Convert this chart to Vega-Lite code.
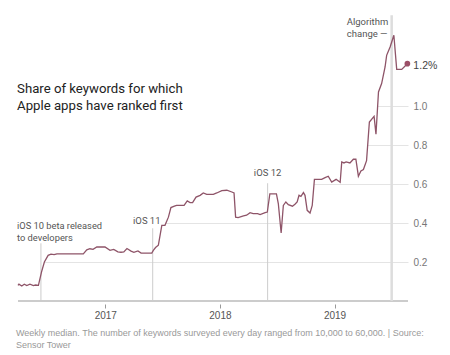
{
  "$schema": "https://vega.github.io/schema/vega-lite/v6.json",
  "width": 390,
  "height": 286,
  "autosize": {"type": "none"},
  "padding": {"left": 18, "top": 15, "right": 42, "bottom": 54},
  "background": "white",
  "config": {"view": {"stroke": null}},
  "title": {
    "text": ["Weekly median. The number of keywords surveyed every day ranged from 10,000 to 60,000. | Source:", "Sensor Tower"],
    "orient": "bottom",
    "anchor": "start",
    "frame": "group",
    "offset": 9,
    "dx": -2,
    "font": "Liberation Sans",
    "fontSize": 9,
    "fontWeight": "normal",
    "color": "#999999",
    "lineHeight": 12
  },
  "data": {"values": [{}]},
  "datasets": {
    "series": [
      {"date": "2016-03-29", "value": 0.080},
      {"date": "2016-04-01", "value": 0.086},
      {"date": "2016-04-10", "value": 0.077},
      {"date": "2016-04-18", "value": 0.086},
      {"date": "2016-04-26", "value": 0.079},
      {"date": "2016-05-06", "value": 0.086},
      {"date": "2016-05-17", "value": 0.079},
      {"date": "2016-05-24", "value": 0.082},
      {"date": "2016-06-02", "value": 0.080},
      {"date": "2016-06-12", "value": 0.149},
      {"date": "2016-06-21", "value": 0.200},
      {"date": "2016-07-03", "value": 0.234},
      {"date": "2016-07-12", "value": 0.240},
      {"date": "2016-07-22", "value": 0.238},
      {"date": "2016-07-31", "value": 0.242},
      {"date": "2016-09-10", "value": 0.242},
      {"date": "2016-10-23", "value": 0.242},
      {"date": "2016-11-03", "value": 0.262},
      {"date": "2016-11-13", "value": 0.268},
      {"date": "2016-11-23", "value": 0.265},
      {"date": "2016-12-05", "value": 0.277},
      {"date": "2016-12-31", "value": 0.277},
      {"date": "2017-01-16", "value": 0.260},
      {"date": "2017-01-28", "value": 0.265},
      {"date": "2017-02-10", "value": 0.252},
      {"date": "2017-02-20", "value": 0.250},
      {"date": "2017-03-01", "value": 0.252},
      {"date": "2017-03-11", "value": 0.269},
      {"date": "2017-03-24", "value": 0.256},
      {"date": "2017-04-02", "value": 0.250},
      {"date": "2017-04-15", "value": 0.257},
      {"date": "2017-04-25", "value": 0.246},
      {"date": "2017-05-29", "value": 0.246},
      {"date": "2017-06-03", "value": 0.260},
      {"date": "2017-06-10", "value": 0.274},
      {"date": "2017-06-19", "value": 0.286},
      {"date": "2017-06-30", "value": 0.388},
      {"date": "2017-07-10", "value": 0.388},
      {"date": "2017-07-21", "value": 0.430},
      {"date": "2017-07-29", "value": 0.479},
      {"date": "2017-08-09", "value": 0.486},
      {"date": "2017-08-16", "value": 0.490},
      {"date": "2017-09-09", "value": 0.490},
      {"date": "2017-09-19", "value": 0.513},
      {"date": "2017-09-28", "value": 0.505},
      {"date": "2017-10-06", "value": 0.505},
      {"date": "2017-10-17", "value": 0.533},
      {"date": "2017-10-30", "value": 0.542},
      {"date": "2017-11-09", "value": 0.554},
      {"date": "2017-11-20", "value": 0.547},
      {"date": "2017-12-11", "value": 0.547},
      {"date": "2017-12-22", "value": 0.554},
      {"date": "2018-01-07", "value": 0.566},
      {"date": "2018-01-23", "value": 0.568},
      {"date": "2018-02-08", "value": 0.559},
      {"date": "2018-02-15", "value": 0.554},
      {"date": "2018-02-20", "value": 0.430},
      {"date": "2018-02-28", "value": 0.428},
      {"date": "2018-03-17", "value": 0.436},
      {"date": "2018-03-27", "value": 0.440},
      {"date": "2018-04-07", "value": 0.453},
      {"date": "2018-04-17", "value": 0.448},
      {"date": "2018-05-01", "value": 0.448},
      {"date": "2018-05-09", "value": 0.443},
      {"date": "2018-05-25", "value": 0.453},
      {"date": "2018-06-01", "value": 0.456},
      {"date": "2018-06-09", "value": 0.549},
      {"date": "2018-06-30", "value": 0.549},
      {"date": "2018-07-06", "value": 0.500},
      {"date": "2018-07-15", "value": 0.349},
      {"date": "2018-07-22", "value": 0.490},
      {"date": "2018-07-30", "value": 0.508},
      {"date": "2018-08-07", "value": 0.494},
      {"date": "2018-08-20", "value": 0.486},
      {"date": "2018-08-28", "value": 0.496},
      {"date": "2018-09-04", "value": 0.508},
      {"date": "2018-09-10", "value": 0.542},
      {"date": "2018-09-16", "value": 0.537},
      {"date": "2018-09-24", "value": 0.556},
      {"date": "2018-09-29", "value": 0.542},
      {"date": "2018-10-06", "value": 0.465},
      {"date": "2018-10-15", "value": 0.451},
      {"date": "2018-10-22", "value": 0.490},
      {"date": "2018-10-29", "value": 0.624},
      {"date": "2018-11-21", "value": 0.624},
      {"date": "2018-12-02", "value": 0.633},
      {"date": "2018-12-12", "value": 0.640},
      {"date": "2018-12-23", "value": 0.610},
      {"date": "2019-01-06", "value": 0.624},
      {"date": "2019-01-19", "value": 0.609},
      {"date": "2019-01-24", "value": 0.713},
      {"date": "2019-01-31", "value": 0.708},
      {"date": "2019-02-07", "value": 0.713},
      {"date": "2019-02-19", "value": 0.708},
      {"date": "2019-03-02", "value": 0.727},
      {"date": "2019-03-10", "value": 0.727},
      {"date": "2019-03-18", "value": 0.640},
      {"date": "2019-03-26", "value": 0.667},
      {"date": "2019-04-03", "value": 0.674},
      {"date": "2019-04-13", "value": 0.720},
      {"date": "2019-04-22", "value": 0.918},
      {"date": "2019-05-07", "value": 0.947},
      {"date": "2019-05-13", "value": 0.855},
      {"date": "2019-05-21", "value": 1.072},
      {"date": "2019-05-31", "value": 1.115},
      {"date": "2019-06-11", "value": 1.200},
      {"date": "2019-06-16", "value": 1.260},
      {"date": "2019-06-27", "value": 1.303},
      {"date": "2019-07-09", "value": 1.363},
      {"date": "2019-07-18", "value": 1.188},
      {"date": "2019-08-03", "value": 1.188},
      {"date": "2019-08-21", "value": 1.217}
    ]
  },
  "layer": [
    {
      "data": {"name": "series"},
      "mark": {"type": "area", "color": "white", "interpolate": "linear"},
      "encoding": {
        "x": {
          "field": "date",
          "type": "temporal",
          "scale": {"type": "utc", "domain": [{"year": 2016, "month": 3, "date": 29, "utc": true}, {"year": 2019, "month": 8, "date": 23, "utc": true}]},
          "axis": {
            "title": null,
            "values": [{"year": 2017, "month": 1, "date": 1, "utc": true}, {"year": 2018, "month": 1, "date": 1, "utc": true}, {"year": 2019, "month": 1, "date": 1, "utc": true}],
            "format": "%Y",
            "formatType": "utc",
            "domain": false,
            "grid": false,
            "ticks": true,
            "tickSize": 4,
            "tickColor": "#999999",
            "offset": 3,
            "labelPadding": 2,
            "labelFont": "Liberation Sans",
            "labelFontSize": 10,
            "labelColor": "#555555"
          }
        },
        "y": {
          "field": "value",
          "type": "quantitative",
          "scale": {"domain": [0, 1.4667], "nice": false, "zero": true},
          "axis": {
            "orient": "right",
            "title": null,
            "values": [0.2, 0.4, 0.6, 0.8, 1.0],
            "format": ".1f",
            "grid": true,
            "gridColor": "#e4e4e4",
            "gridWidth": 1,
            "domain": false,
            "ticks": false,
            "labelPadding": 5,
            "labelAlign": "left",
            "labelFont": "Liberation Sans",
            "labelFontSize": 10,
            "labelColor": "#777777"
          }
        },
        "y2": {"datum": 1.4667}
      }
    },
    {
      "mark": {"type": "rule", "color": "#999999", "strokeWidth": 1},
      "encoding": {"y": {"datum": 0}}
    },
    {
      "mark": {"type": "rule", "color": "#cccccc", "strokeWidth": 1},
      "encoding": {
        "x": {"datum": {"year": 2016, "month": 6, "date": 10, "utc": true}, "type": "temporal"},
        "y": {"datum": 0},
        "y2": {"datum": 0.296}
      }
    },
    {
      "mark": {"type": "rule", "color": "#cccccc", "strokeWidth": 1},
      "encoding": {
        "x": {"datum": {"year": 2017, "month": 6, "date": 1, "utc": true}, "type": "temporal"},
        "y": {"datum": 0},
        "y2": {"datum": 0.373}
      }
    },
    {
      "mark": {"type": "rule", "color": "#cccccc", "strokeWidth": 1},
      "encoding": {
        "x": {"datum": {"year": 2018, "month": 6, "date": 2, "utc": true}, "type": "temporal"},
        "y": {"datum": 0},
        "y2": {"datum": 0.604}
      }
    },
    {
      "mark": {"type": "rule", "color": "#dddddd", "strokeWidth": 2.5},
      "encoding": {
        "x": {"datum": {"year": 2019, "month": 7, "date": 2, "utc": true}, "type": "temporal"},
        "y": {"datum": 0},
        "y2": {"datum": 1.465}
      }
    },
    {
      "data": {"name": "series"},
      "mark": {"type": "line", "color": "#8e5468", "strokeWidth": 1.3, "interpolate": "linear"},
      "encoding": {
        "x": {"field": "date", "type": "temporal"},
        "y": {"field": "value", "type": "quantitative"}
      }
    },
    {
      "data": {"name": "series"},
      "transform": [
        {"window": [{"op": "row_number", "as": "rk"}], "sort": [{"field": "date", "order": "descending"}]},
        {"filter": "datum.rk === 1"}
      ],
      "mark": {"type": "circle", "color": "#9c4f67", "size": 32, "opacity": 1},
      "encoding": {
        "x": {"field": "date", "type": "temporal"},
        "y": {"field": "value", "type": "quantitative"}
      }
    },
    {
      "data": {"name": "series"},
      "transform": [
        {"window": [{"op": "row_number", "as": "rk"}], "sort": [{"field": "date", "order": "descending"}]},
        {"filter": "datum.rk === 1"}
      ],
      "mark": {"type": "text", "align": "left", "baseline": "middle", "dx": 6, "dy": 2, "font": "Liberation Sans", "fontSize": 10.5, "color": "#444444"},
      "encoding": {
        "x": {"field": "date", "type": "temporal"},
        "y": {"field": "value", "type": "quantitative"},
        "text": {"value": "1.2%"}
      }
    },
    {
      "mark": {"type": "text", "align": "left", "baseline": "alphabetic", "font": "Roboto", "fontSize": 13.2, "lineHeight": 17.3, "color": "#222222"},
      "encoding": {
        "x": {"datum": {"year": 2016, "month": 3, "date": 26, "utc": true}, "type": "temporal"},
        "y": {"datum": 1.068},
        "text": {"value": ["Share of keywords for which", "Apple apps have ranked first"]}
      }
    },
    {
      "mark": {"type": "text", "align": "left", "baseline": "alphabetic", "font": "Roboto", "fontSize": 9.3, "lineHeight": 11.7, "color": "#555555"},
      "encoding": {
        "x": {"datum": {"year": 2016, "month": 3, "date": 26, "utc": true}, "type": "temporal"},
        "y": {"datum": 0.367},
        "text": {"value": ["iOS 10 beta released", "to developers"]}
      }
    },
    {
      "mark": {"type": "text", "align": "right", "baseline": "alphabetic", "font": "Roboto", "fontSize": 9.5, "color": "#555555"},
      "encoding": {
        "x": {"datum": {"year": 2017, "month": 6, "date": 26, "utc": true}, "type": "temporal"},
        "y": {"datum": 0.394},
        "text": {"value": "iOS 11"}
      }
    },
    {
      "mark": {"type": "text", "align": "center", "baseline": "alphabetic", "font": "Roboto", "fontSize": 9.5, "color": "#555555"},
      "encoding": {
        "x": {"datum": {"year": 2018, "month": 6, "date": 2, "utc": true}, "type": "temporal"},
        "y": {"datum": 0.640},
        "text": {"value": "iOS 12"}
      }
    },
    {
      "mark": {"type": "text", "align": "left", "baseline": "alphabetic", "font": "Roboto", "fontSize": 9.5, "lineHeight": 12, "color": "#555555"},
      "encoding": {
        "x": {"datum": {"year": 2019, "month": 2, "date": 9, "utc": true}, "type": "temporal"},
        "y": {"datum": 1.414},
        "text": {"value": ["Algorithm", "change —"]}
      }
    }
  ]
}
